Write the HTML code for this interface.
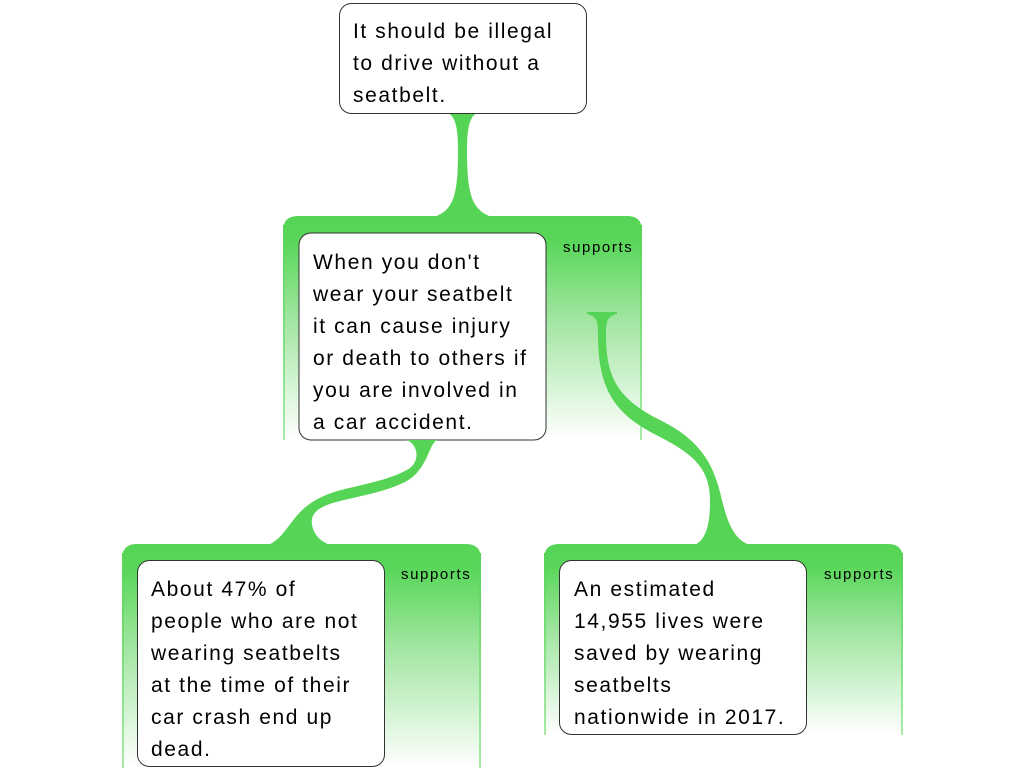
<!DOCTYPE html>
<html><head><meta charset="utf-8"><style>
html,body{margin:0;padding:0;background:#fff;}
svg{display:block;}
text{font-family:"Liberation Sans",sans-serif;fill:#000;}
.t{font-size:21px;letter-spacing:1.6px;}
.s{font-size:15px;letter-spacing:1.6px;}
</style></head><body>
<svg width="1024" height="768" viewBox="0 0 1024 768" xmlns="http://www.w3.org/2000/svg">
<defs>
<linearGradient id="g1" x1="0" y1="0" x2="0" y2="1">
<stop offset="0" stop-color="#55d455"/>
<stop offset="0.12" stop-color="#5ad75a"/>
<stop offset="0.45" stop-color="#9fe59f"/>
<stop offset="1" stop-color="#ffffff"/>
</linearGradient>
<linearGradient id="gs" x1="0" y1="0" x2="0" y2="1">
<stop offset="0" stop-color="#55d455"/>
<stop offset="1" stop-color="#a8eaa8"/>
</linearGradient>
</defs>

<path d="M448,113 L477,113 C469,117 467,130 467,150 C467,195 472,210 492,217 L434,217 C454,210 458,195 458,150 C458,130 456,117 448,113 Z" fill="#55d455"/>

<path d="M283,440 L283,231 Q283,216 298,216 L627,216 Q642,216 642,231 L642,440 Z" fill="url(#g1)"/>
<rect x="283" y="225" width="2" height="215" fill="url(#gs)"/>
<rect x="640" y="225" width="2" height="215" fill="url(#gs)"/>
<rect x="299" y="233" width="247" height="207" rx="12" fill="#fff" stroke="#333" stroke-width="1"/>
<text class="s" x="563" y="252">supports</text>
<text class="t"><tspan x="313" y="269">When you don't</tspan><tspan x="313" y="301">wear your seatbelt</tspan><tspan x="313" y="333">it can cause injury</tspan><tspan x="313" y="365">or death to others if</tspan><tspan x="313" y="397">you are involved in</tspan><tspan x="313" y="429">a car accident.</tspan></text>

<path d="M407,440 L437,440 C428,445 428,470 405,482 C385,492 360,496 340,501 C320,506 310,512 312,525 C314,535 320,541 330,545 L268,545 C280,540 285,530 295,518 C305,505 320,495 345,489 C370,483 395,478 410,468 C420,460 418,445 407,440 Z" fill="#55d455"/>

<path d="M587,312 L617,312 L617,314 C607,316 606,322 606,335 C606,380 620,400 660,420 C705,442 715,470 722,500 C728,525 735,540 750,545 L695,545 C708,538 710,520 710,500 C710,470 695,455 660,437 C615,415 598,390 598,335 C598,322 597,316 587,314 Z" fill="#55d455"/>

<rect x="339.5" y="3.5" width="247" height="110" rx="12" fill="#fff" stroke="#333" stroke-width="1"/>
<text class="t"><tspan x="353" y="38">It should be illegal</tspan><tspan x="353" y="70">to drive without a</tspan><tspan x="353" y="102">seatbelt.</tspan></text>

<path d="M122,768 L122,559 Q122,544 137,544 L466,544 Q481,544 481,559 L481,768 Z" fill="url(#g1)"/>
<rect x="122" y="553" width="2" height="215" fill="url(#gs)"/>
<rect x="479" y="553" width="2" height="215" fill="url(#gs)"/>
<rect x="137.5" y="560.5" width="247" height="206" rx="12" fill="#fff" stroke="#333" stroke-width="1"/>
<text class="s" x="401" y="579">supports</text>
<text class="t"><tspan x="151" y="596">About 47% of</tspan><tspan x="151" y="628">people who are not</tspan><tspan x="151" y="660">wearing seatbelts</tspan><tspan x="151" y="692">at the time of their</tspan><tspan x="151" y="724">car crash end up</tspan><tspan x="151" y="756">dead.</tspan></text>

<path d="M544,735 L544,559 Q544,544 559,544 L888,544 Q903,544 903,559 L903,735 Z" fill="url(#g1)"/>
<rect x="544" y="553" width="2" height="182" fill="url(#gs)"/>
<rect x="901" y="553" width="2" height="182" fill="url(#gs)"/>
<rect x="559.5" y="560.5" width="247" height="174" rx="12" fill="#fff" stroke="#333" stroke-width="1"/>
<text class="s" x="824" y="579">supports</text>
<text class="t"><tspan x="574" y="596">An estimated</tspan><tspan x="574" y="628">14,955 lives were</tspan><tspan x="574" y="660">saved by wearing</tspan><tspan x="574" y="692">seatbelts</tspan><tspan x="574" y="724">nationwide in 2017.</tspan></text>
</svg>
</body></html>
